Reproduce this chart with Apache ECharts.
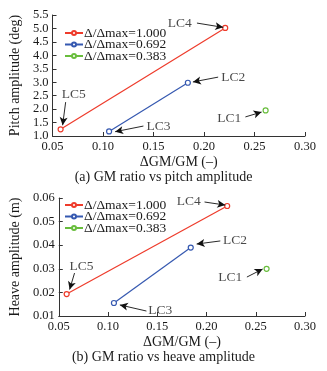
<!DOCTYPE html>
<html>
<head>
<meta charset="utf-8">
<script src="https://cdn.jsdelivr.net/npm/echarts@6/dist/echarts.min.js"></script>
<style>
  html, body { margin: 0; padding: 0; background: #fff; }
  #chart { width: 327px; height: 371px; }
</style>
</head>
<body>
<div id="chart"></div>
<script>
var seriesNames = ['Δ/Δmax=1.000', 'Δ/Δmax=0.692', 'Δ/Δmax=0.383'];
var colors = ['#ee3b2b', '#3558b0', '#68bd3c'];

// [GM ratio, amplitude]
var pitchData = [
  [[0.058, 1.25], [0.221, 5.02]],   // LC5, LC4
  [[0.106, 1.17], [0.184, 2.98]],   // LC3, LC2
  [[0.261, 1.95]]                   // LC1
];
var heaveData = [
  [[0.058, 0.0193], [0.221, 0.0566]],
  [[0.106, 0.0155], [0.184, 0.0390]],
  [[0.261, 0.0300]]
];

// label text position and arrow [from, to] in data units
var pitchNotes = [
  ['LC4', [0.176, 5.20], [0.193, 5.20], [0.219, 5.04]],
  ['LC2', [0.229, 3.19], [0.214, 3.19], [0.189, 3.01]],
  ['LC3', [0.155, 1.37], [0.140, 1.37], [0.112, 1.16]],
  ['LC1', [0.225, 1.67], [0.241, 1.71], [0.257, 1.89]],
  ['LC5', [0.071, 2.56], [0.063, 2.26], [0.060, 1.40]]
];
var heaveNotes = [
  ['LC4', [0.182, 0.0587], [0.198, 0.0583], [0.219, 0.0570]],
  ['LC2', [0.229, 0.0418], [0.214, 0.0418], [0.190, 0.0405]],
  ['LC3', [0.153, 0.0123], [0.139, 0.0121], [0.112, 0.0147]],
  ['LC1', [0.224, 0.0265], [0.241, 0.0265], [0.257, 0.0299]],
  ['LC5', [0.073, 0.0312], [0.066, 0.0282], [0.061, 0.0212]]
];

var font = 'Liberation Serif';
var axisColor = '#333';
var textColor = '#1a1a1a';

function xAxis(idx) {
  return {
    gridIndex: idx, type: 'value', min: 0.05, max: 0.30, interval: 0.05,
    name: 'ΔGM/GM (–)', nameLocation: 'middle', nameGap: 19,
    nameTextStyle: { fontFamily: font, fontSize: 14, color: textColor },
    axisLine: { lineStyle: { color: axisColor } },
    axisTick: { inside: true, length: 4, lineStyle: { color: axisColor } },
    axisLabel: { fontFamily: font, fontSize: 12.5, color: textColor, margin: 4,
      formatter: function (v) { return v.toFixed(2); } },
    splitLine: { show: false }
  };
}

function yAxis(idx, name, min, max, step, dec) {
  return {
    gridIndex: idx, type: 'value', min: min, max: max, interval: step,
    name: name, nameLocation: 'middle', nameGap: 30,
    nameTextStyle: { fontFamily: font, fontSize: 14, color: textColor },
    axisLine: { show: true, lineStyle: { color: axisColor } },
    axisTick: { show: true, inside: true, length: 4, lineStyle: { color: axisColor } },
    axisLabel: { fontFamily: font, fontSize: 12.5, color: textColor, margin: 4,
      formatter: function (v) { return v.toFixed(dec); } },
    splitLine: { show: false }
  };
}

function dataSeries(idx, data) {
  return data.map(function (d, i) {
    return {
      name: seriesNames[i], type: 'line', xAxisIndex: idx, yAxisIndex: idx,
      data: d, symbol: 'circle', symbolSize: 5, showAllSymbol: true,
      itemStyle: { color: '#fff', borderColor: colors[i], borderWidth: 1.2 },
      lineStyle: { color: colors[i], width: 1.2 },
      emphasis: { disabled: true }
    };
  });
}

function noteSeries(idx, notes) {
  return {
    type: 'scatter', xAxisIndex: idx, yAxisIndex: idx, symbolSize: 0,
    silent: true,
    data: notes.map(function (n) { return { value: n[1], name: n[0] }; }),
    label: { show: true, position: 'inside', formatter: '{b}',
      fontFamily: font, fontSize: 13.5, color: textColor },
    markLine: {
      silent: true, symbol: ['none', 'arrow'], symbolSize: [6, 8],
      label: { show: false },
      lineStyle: { color: '#111', width: 0.9, type: 'solid' },
      data: notes.map(function (n) { return [{ coord: n[2] }, { coord: n[3] }]; })
    }
  };
}

function legend(top) {
  return {
    left: 64, top: top, orient: 'vertical', itemGap: -2.5, padding: 0,
    itemWidth: 18, itemHeight: 5,
    data: seriesNames,
    itemStyle: { color: 'inherit' },
    textStyle: { fontFamily: font, fontSize: 13.5, color: textColor, padding: [0, 0, 0, -4] }
  };
}

var chart = echarts.init(document.getElementById('chart'));
chart.setOption({
  backgroundColor: '#fff',
  animation: false,
  title: [
    { text: '(a) GM ratio vs pitch amplitude', left: 'center', top: 170, padding: 0,
      textStyle: { fontFamily: font, fontSize: 14, fontWeight: 'normal', color: textColor } },
    { text: '(b) GM ratio vs heave amplitude', left: 'center', top: 350, padding: 0,
      textStyle: { fontFamily: font, fontSize: 14, fontWeight: 'normal', color: textColor } }
  ],
  legend: [legend(26), legend(198)],
  grid: [
    { left: 52, right: 22, top: 15, height: 121 },
    { left: 52, right: 22, top: 198, height: 118 }
  ],
  xAxis: [xAxis(0), xAxis(1)],
  yAxis: [
    yAxis(0, 'Pitch amplitude (deg)', 1.0, 5.5, 0.5, 1),
    yAxis(1, 'Heave amplitude (m)', 0.01, 0.06, 0.01, 2)
  ],
  series: dataSeries(0, pitchData)
    .concat(dataSeries(1, heaveData))
    .concat([noteSeries(0, pitchNotes), noteSeries(1, heaveNotes)])
});
</script>
</body>
</html>
